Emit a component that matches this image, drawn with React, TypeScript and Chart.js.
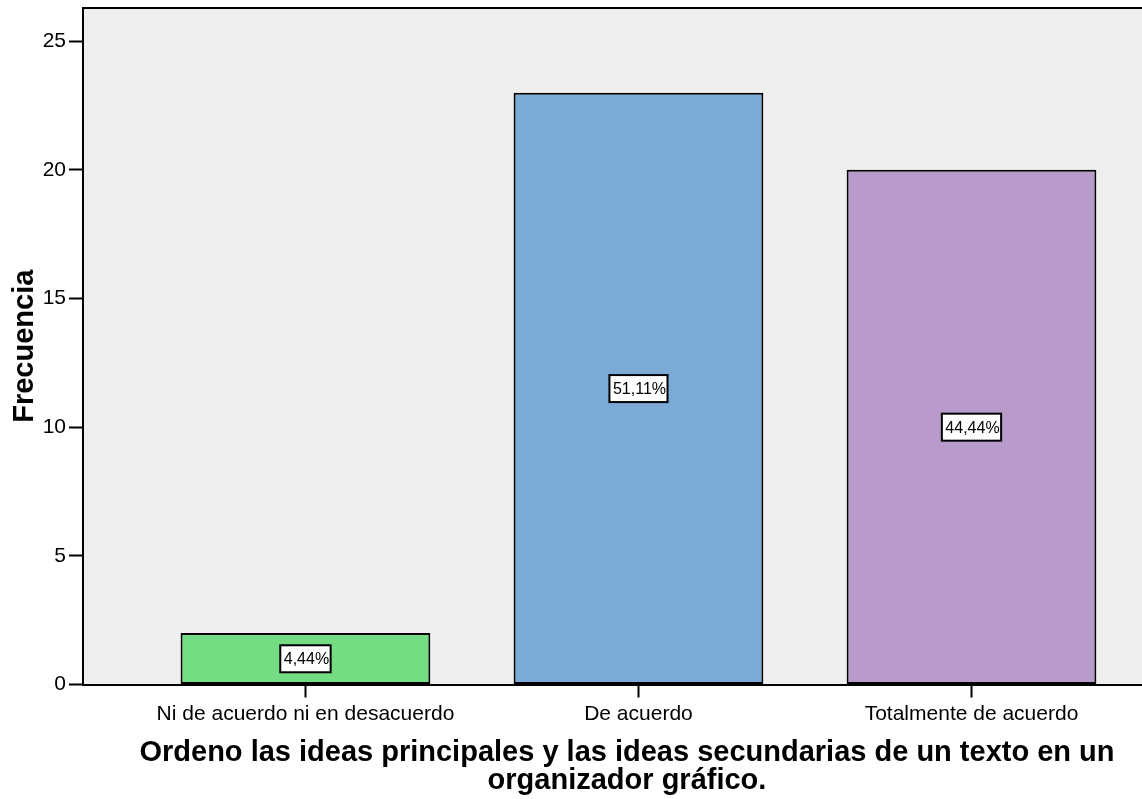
import React, { useEffect, useRef } from "react";
import { Chart, registerables } from "chart.js";

Chart.register(...registerables);

const categories = ["Ni de acuerdo ni en desacuerdo", "De acuerdo", "Totalmente de acuerdo"];
const frequencies = [2, 23, 20];
const percentLabels = ["4,44%", "51,11%", "44,44%"];
const barColors = ["#74DD84", "#7BAAD7", "#B89BCB"];
const yTicks = [0, 5, 10, 15, 20, 25];
const xTitleLines = [
  "Ordeno las ideas principales y las ideas secundarias de un texto en un",
  "organizador gráfico.",
];
const yTitle = "Frecuencia";

const FONT = '"Liberation Sans", Arial, sans-serif';

const decorPlugin = {
  id: "decor",
  beforeDraw(chart: any) {
    const { ctx, chartArea } = chart;
    ctx.save();
    ctx.fillStyle = "#EFEFEF";
    ctx.fillRect(chartArea.left, chartArea.top, chartArea.right - chartArea.left, chartArea.bottom - chartArea.top);
    ctx.restore();
  },
  afterDatasetsDraw(chart: any) {
    const { ctx } = chart;
    const meta = chart.getDatasetMeta(0);
    const yScale = chart.scales.y;
    ctx.save();
    ctx.font = `16px ${FONT}`;
    ctx.textAlign = "center";
    ctx.textBaseline = "middle";
    meta.data.forEach((el: any, i: number) => {
      const cx = el.x;
      const cy = yScale.getPixelForValue(frequencies[i] / 2);
      const txt = percentLabels[i];
      const w = ctx.measureText(txt).width + 5;
      const h = 27;
      ctx.fillStyle = "#FFFFFF";
      ctx.fillRect(cx - w / 2, cy - h / 2, w, h);
      ctx.lineWidth = 2;
      ctx.strokeStyle = "#000000";
      ctx.strokeRect(cx - w / 2, cy - h / 2, w, h);
      ctx.fillStyle = "#000000";
      ctx.fillText(txt, cx + 1, cy + 1);
    });
    ctx.restore();
  },
  afterDraw(chart: any) {
    const { ctx, chartArea } = chart;
    ctx.save();
    ctx.strokeStyle = "#000000";
    ctx.lineWidth = 2;
    ctx.beginPath();
    ctx.moveTo(chartArea.left - 1, chartArea.top);
    ctx.lineTo(chartArea.right, chartArea.top);
    ctx.stroke();

    ctx.fillStyle = "#000000";
    ctx.font = `bold 29px ${FONT}`;
    ctx.textAlign = "center";
    ctx.textBaseline = "alphabetic";
    ctx.fillText(xTitleLines[0], 627, 761);
    ctx.fillText(xTitleLines[1], 627, 789);

    ctx.translate(33, (chartArea.top + chartArea.bottom) / 2);
    ctx.rotate(-Math.PI / 2);
    ctx.fillText(yTitle, 0, 0);
    ctx.restore();
  },
};

export default function App() {
  const canvasRef = useRef<HTMLCanvasElement | null>(null);

  useEffect(() => {
    if (!canvasRef.current) return;
    const chart = new Chart(canvasRef.current, {
      type: "bar",
      data: {
        datasets: [
          {
            data: frequencies.map((v, i) => ({ x: i, y: v })),
            backgroundColor: barColors,
            borderColor: "#000000",
            borderWidth: 2,
            borderSkipped: false,
            categoryPercentage: 1,
            barPercentage: 0.75,
          } as any,
        ],
      },
      options: {
        animation: false,
        responsive: true,
        maintainAspectRatio: false,
        layout: { padding: { top: 8, right: 0, left: 0, bottom: 0 } },
        plugins: {
          legend: { display: false },
          tooltip: { enabled: false },
        },
        scales: {
          x: {
            type: "linear",
            offset: false,
            min: -0.668,
            max: 2.512,
            afterBuildTicks: (scale: any) => {
              scale.ticks = categories.map((_, i) => ({ value: i }));
            },
            afterFit: (scale: any) => {
              scale.height = 114.5;
              scale.paddingLeft = 0;
              scale.paddingRight = 0;
            },
            ticks: {
              callback: (v: any) => categories[v] ?? "",
              color: "#000000",
              font: { family: FONT, size: 21 },
              padding: 4,
              maxRotation: 0,
              autoSkip: false,
            },
            grid: {
              display: true,
              offset: false,
              drawOnChartArea: false,
              drawTicks: true,
              tickLength: 13,
              tickColor: "#000000",
              tickWidth: 2,
            },
            border: { display: true, color: "#000000", width: 2 },
          },
          y: {
            type: "linear",
            min: 0,
            max: 26.29,
            afterBuildTicks: (scale: any) => {
              scale.ticks = yTicks.map((v) => ({ value: v }));
            },
            afterFit: (scale: any) => {
              scale.width = 83;
              scale.paddingTop = 0;
              scale.paddingBottom = 0;
            },
            ticks: {
              color: "#000000",
              font: { family: FONT, size: 21 },
              padding: 3,
            },
            grid: {
              display: true,
              drawOnChartArea: false,
              drawTicks: true,
              tickLength: 14,
              tickColor: "#000000",
              tickWidth: 2,
            },
            border: { display: true, color: "#000000", width: 2 },
          },
        },
      } as any,
      plugins: [decorPlugin],
    });
    return () => chart.destroy();
  }, []);

  return (
    <div style={{ position: "absolute", left: 0, top: 0, width: 1142, height: 799, background: "#FFFFFF" }}>
      <canvas ref={canvasRef} />
    </div>
  );
}
